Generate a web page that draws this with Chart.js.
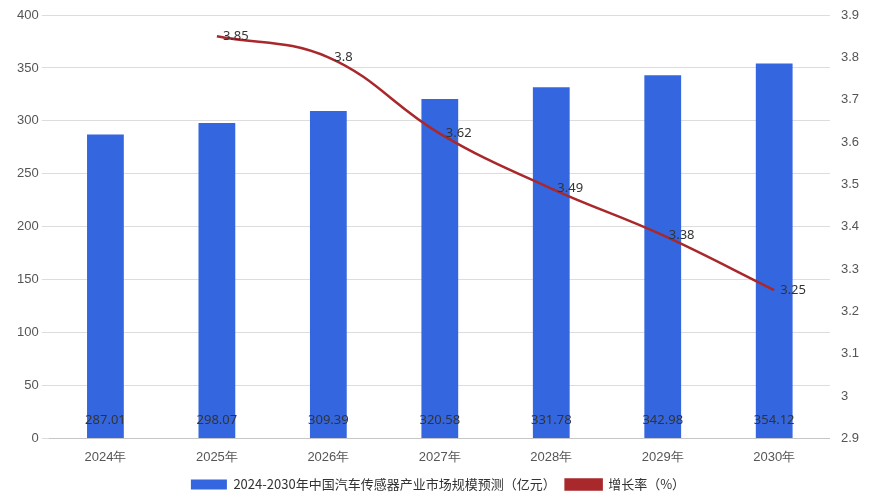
<!DOCTYPE html>
<html><head><meta charset="utf-8">
<script src="https://cdn.jsdelivr.net/npm/chart.js@4/dist/chart.umd.min.js"></script>
<style>body{margin:0;background:#fff}#wrap{width:890px;height:503px}</style>
</head><body><div id="wrap"><canvas id="c"></canvas></div>
<script>
const years = ["2024年", "2025年", "2026年", "2027年", "2028年", "2029年", "2030年"];
const marketSize = [287.01, 298.07, 309.39, 320.58, 331.78, 342.98, 354.12];
const growthRate = [null, 3.85, 3.8, 3.62, 3.49, 3.38, 3.25];

// value labels: bar values near the bottom, rate labels beside the line
const labels = {
    id: 'labels',
    afterDatasetsDraw(chart) {
        const { ctx } = chart;
        ctx.save();
        ctx.font = '13px "Noto Sans", sans-serif';
        ctx.fillStyle = '#333';
        ctx.textAlign = 'center';
        ctx.textBaseline = 'middle';
        const bottom = chart.scales.y.getPixelForValue(0);
        chart.getDatasetMeta(0).data.forEach((b, i) => {
            ctx.fillText(marketSize[i].toFixed(2), b.x, bottom - 18);
        });
        ctx.textAlign = 'left';
        chart.getDatasetMeta(1).data.forEach((p, i) => {
            if (growthRate[i] == null) return;
            ctx.fillText(String(growthRate[i]), p.x + 6, p.y);
        });
        ctx.restore();
    }
};

new Chart(document.getElementById('c'), {
    data: {
        labels: years,
        datasets: [{
            type: 'bar',
            label: '2024-2030年中国汽车传感器产业市场规模预测（亿元）',
            data: marketSize,
            backgroundColor: '#3466e0',
            barPercentage: 0.33,
            categoryPercentage: 1,
            yAxisID: 'y',
            order: 2
        }, {
            type: 'line',
            label: '增长率（%）',
            data: growthRate,
            borderColor: '#a8282c',
            backgroundColor: '#a8282c',
            borderWidth: 2.5,
            pointRadius: 0,
            tension: 0.4,
            yAxisID: 'y1',
            order: 1
        }]
    },
    options: {
        responsive: true,
        maintainAspectRatio: false,
        animation: false,
        layout: { padding: { top: 15, right: 28, left: 14, bottom: 2 } },
        plugins: {
            legend: {
                position: 'bottom',
                labels: { font: { size: 13, family: '"Noto Sans CJK SC", sans-serif' }, color: '#333', boxWidth: 36, boxHeight: 10,
                    sort: (a, b) => a.datasetIndex - b.datasetIndex }
            },
            tooltip: { enabled: false }
        },
        scales: {
            x: {
                grid: { display: false },
                ticks: { color: '#555', font: { size: 13 } }
            },
            y: {
                min: 0, max: 400,
                ticks: { stepSize: 50, color: '#555', font: { size: 13 } },
                grid: { color: '#ddd' },
                border: { display: false }
            },
            y1: {
                position: 'right',
                min: 2.9, max: 3.9,
                ticks: { stepSize: 0.1, color: '#555', font: { size: 13 },
                    callback: v => Math.round(v * 10) / 10 },
                grid: { display: false },
                border: { display: false }
            }
        }
    },
    plugins: [labels]
});
</script>
</body></html>
